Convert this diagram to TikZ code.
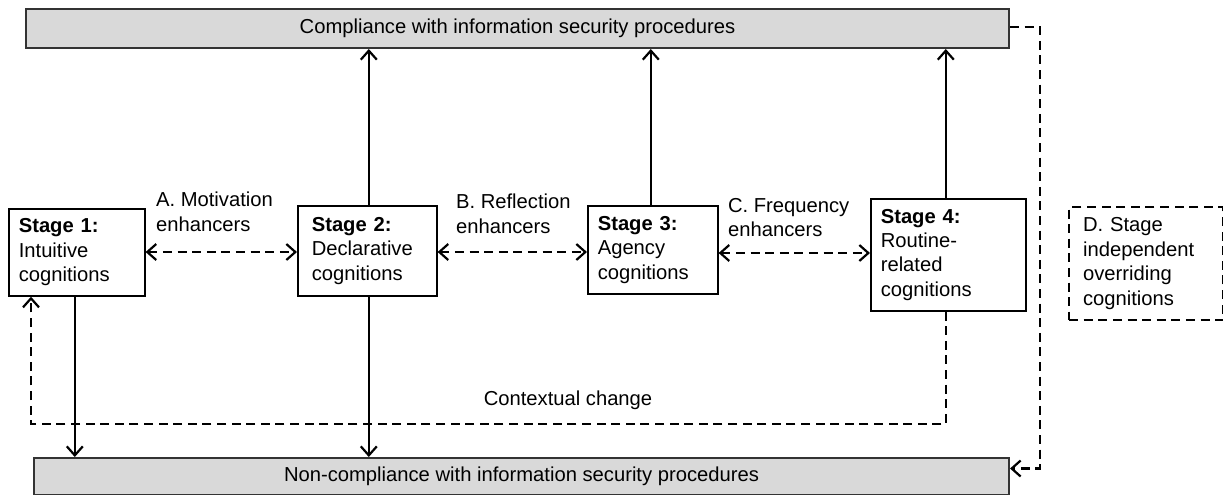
\documentclass[tikz,border=0pt]{standalone}
\usepackage{fontspec}
\setmainfont{Liberation Sans}
\usetikzlibrary{calc,arrows.meta}

\begin{document}
\begin{tikzpicture}
  [x=0.5pt,y=-0.5pt,line width=1.1pt,
   >={Straight Barb[length=4.5pt,width=8pt]},
   every node/.style={font=\fontsize{10.1}{12.2}\selectfont},
   bar/.style={draw=black!80,fill=black!15,line width=1pt,anchor=north west,inner sep=0pt},
   stagebox/.style={draw,line width=0.8pt,anchor=north west,align=left,inner sep=5pt},
   lbl/.style={anchor=north west,align=left,inner sep=0pt},
   dashline/.style={dash pattern=on 4.5pt off 2.8pt}]
\useasboundingbox (0,0) rectangle (1223,494);
% outcome bars
\node[bar,minimum width=491.5pt,minimum height=19.5pt] (top) at (25,8)
  {Compliance with information security procedures};
\node[bar,minimum width=487.5pt,minimum height=18.5pt] (bot) at (33,457)
  {Non-compliance with information security procedures};
% stages
\node[stagebox,text width=58pt,minimum height=43.5pt] (s1) at (8,208)
  {\textbf{Stage 1:}\\Intuitive\\cognitions};
\node[stagebox,minimum height=45pt,inner xsep=7pt,text width=55.5pt] (s2) at (297,205)
  {\textbf{Stage 2:}\\Declarative\\cognitions};
\node[stagebox,text width=55pt,minimum height=44pt] (s3) at (587,205)
  {\textbf{Stage 3:}\\Agency\\cognitions};
\node[stagebox,text width=67.5pt,minimum height=56pt] (s4) at (870,198)
  {\textbf{Stage 4:}\\Routine-\\related\\cognitions};
\node[stagebox,dashline,line width=1.1pt,inner xsep=7pt,text width=63pt,minimum height=56.5pt] (d) at (1068,206)
  {D. Stage\\independent\\overriding\\cognitions};
% enhancer labels
\node[lbl] (la) at (155,191) {A. Motivation\\enhancers};
\node[lbl] (lb) at (455,193) {B. Reflection\\enhancers};
\node[lbl] (lc) at (727,197) {C. Frequency\\enhancers};
\node (lctx) at (568,400) {Contextual change};
% enhancer links
\draw[dashline,<->] (s1.east |- 0,252) -- (s2.west |- 0,252);
\draw[dashline,<->] (s2.east |- 0,252) -- (s3.west |- 0,252);
\draw[dashline,<->] (s3.east |- 0,253) -- (s4.west |- 0,253);
% to compliance / non-compliance
\draw[->] ($(s2.north)+(1.5,0)$) -- ($(s2.north |- top.south)+(1.5,0)$);
\draw[->] ($(s3.north)+(-2,0)$) -- ($(s3.north |- top.south)+(-2,0)$);
\draw[->] ($(s4.north)+(-2.5,0)$) -- ($(s4.north |- top.south)+(-2.5,0)$);
\draw[->] ($(s1.south)+(-2,0)$) -- ($(s1.south |- bot.north)+(-2,0)$);
\draw[->] ($(s2.south)+(1.5,0)$) -- ($(s2.south |- bot.north)+(1.5,0)$);
% contextual change and overriding loop
\coordinate (ctx) at (31,424);
\draw[dashline,->] ($(s4.south)+(-2.5,0)$) |- (ctx) -- (ctx |- s1.south);
\coordinate (rgt) at (1040,27);
\draw[dashline,->] (top.east |- rgt) -- (rgt) |- ($(bot.east)+(0,-8)$);
\end{tikzpicture}
\end{document}
